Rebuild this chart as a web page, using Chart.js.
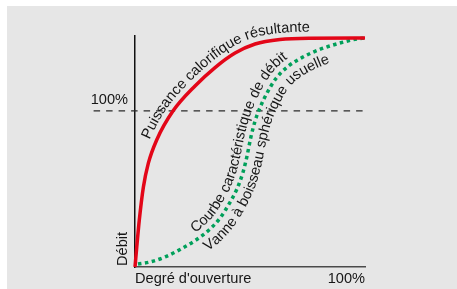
<!DOCTYPE html>
<html>
<head>
<meta charset="utf-8">
<script src="https://cdn.jsdelivr.net/npm/chart.js@4/dist/chart.umd.min.js"></script>
<style>
  html, body { margin: 0; padding: 0; background: #fff; }
  canvas { display: block; }
</style>
</head>
<body>
<canvas id="chart" width="457" height="289"></canvas>
<script>
// axis labels
const xTicks = [0, 100]
const xTickLabels = ["Degré d'ouverture", '100%']
const yTicks = [100]
const yTickLabels = ['100%']
const yTitle = 'Débit'

// x = degré d'ouverture (%), y = débit (%, 100 = ligne pointillée)
const redX = [0, 0.65, 1.87, 3.65, 5.78, 9.43, 16.5, 26.1, 34.8, 43.5, 52.2, 63.0, 76.1, 100]
const redY = [0, 10.9, 30.1, 51.3, 66.4, 81.4, 99.9, 116.0, 127.8, 137.1, 142.9, 145.8, 146.6, 146.7]

const greenX = [1.3, 6.5, 13.0, 19.6, 26.5, 32.6, 37.0, 40.9, 44.3, 47.0, 48.7, 50.4, 52.2, 54.3, 57.4, 61.3, 66.5, 73.0, 80.4, 89.1, 96.5, 100]
const greenY = [1.9, 3.2, 6.4, 11.2, 17.3, 24.3, 31.4, 40.4, 50.0, 60.9, 71.1, 83.3, 93.5, 101.9, 111.5, 120.8, 128.5, 134.5, 139.4, 143.5, 146.1, 146.7]

const refX = [-18, 100]
const refY = [100, 100]

// labels that follow the curves
const curveLabels = [
  { text: 'Puissance calorifique résultante', ds: 0, start: 0.33, off: 6.5 },
  { text: 'Courbe caractéristique de débit', ds: 1, start: 0.19, off: 6.5 },
  { text: 'Vanne à boisseau sphérique usuelle', ds: 1, start: 0.19, off: -16 }
]

const FAMILY = '"Liberation Sans", Arial, sans-serif'
const SIZE = 14.6
const TEXT = '#161616'

const toPts = (xs, ys) => xs.map((x, i) => ({ x, y: ys[i] }))

function sampleCurve(meta) {
  const pts = meta.data, out = []
  for (let i = 0; i < pts.length - 1; i++) {
    const a = pts[i], b = pts[i + 1]
    const c1x = a.cp2x ?? a.x, c1y = a.cp2y ?? a.y, c2x = b.cp1x ?? b.x, c2y = b.cp1y ?? b.y
    for (let k = 0; k < 16; k++) {
      const t = k / 16, u = 1 - t
      out.push({
        x: u*u*u*a.x + 3*u*u*t*c1x + 3*u*t*t*c2x + t*t*t*b.x,
        y: u*u*u*a.y + 3*u*u*t*c1y + 3*u*t*t*c2y + t*t*t*b.y
      })
    }
  }
  const last = pts[pts.length - 1]
  out.push({ x: last.x, y: last.y })
  return out
}

function lengths(path) {
  const L = [0]
  for (let i = 1; i < path.length; i++) L.push(L[i-1] + Math.hypot(path[i].x - path[i-1].x, path[i].y - path[i-1].y))
  return L
}

function pointAt(path, L, s) {
  s = Math.max(0, Math.min(s, L[L.length - 1]))
  let i = 1
  while (i < L.length - 1 && L[i] < s) i++
  const seg = (L[i] - L[i-1]) || 1, t = (s - L[i-1]) / seg
  return { x: path[i-1].x + (path[i].x - path[i-1].x) * t, y: path[i-1].y + (path[i].y - path[i-1].y) * t }
}

function drawOnPath(ctx, lbl, path) {
  const base = lengths(path)
  let nx = 0, ny = -1
  const op = path.map((p, i) => {
    const a = path[Math.max(0, i - 2)], b = path[Math.min(path.length - 1, i + 2)]
    const tx = b.x - a.x, ty = b.y - a.y, len = Math.hypot(tx, ty)
    if (len > 0.01) { nx = ty / len; ny = -tx / len }
    return { x: p.x + nx * lbl.off, y: p.y + ny * lbl.off }
  })
  const L = lengths(op)
  const target = lbl.start * base[base.length - 1]
  let idx = base.findIndex(v => v >= target)
  if (idx < 0) idx = 0
  let s = L[idx]
  for (const ch of lbl.text) {
    const w = ctx.measureText(ch).width
    const p0 = pointAt(op, L, s), p1 = pointAt(op, L, s + w), mid = pointAt(op, L, s + w / 2)
    const ang = Math.atan2(p1.y - p0.y, p1.x - p0.x)
    ctx.save()
    ctx.translate(mid.x, mid.y)
    ctx.rotate(ang)
    ctx.fillText(ch, 0, 0)
    ctx.restore()
    s += w
  }
}

const backdrop = {
  id: 'backdrop',
  beforeDraw(chart) {
    const ctx = chart.ctx
    ctx.save()
    ctx.fillStyle = '#e6e6e6'
    ctx.fillRect(7, 6, chart.width - 7, chart.height - 6)
    ctx.restore()
  }
}

const textLabels = {
  id: 'textLabels',
  afterDatasetsDraw(chart) {
    const ctx = chart.ctx, ys = chart.scales.y
    ctx.save()
    ctx.font = SIZE + 'px ' + FAMILY
    ctx.fillStyle = TEXT
    ctx.textAlign = 'center'
    ctx.textBaseline = 'alphabetic'
    curveLabels.forEach(l => drawOnPath(ctx, l, sampleCurve(chart.getDatasetMeta(l.ds))))
    // y title at the bottom of the axis
    ctx.translate(chart.chartArea.left - 8, ys.getPixelForValue(0) - 1)
    ctx.rotate(-Math.PI / 2)
    ctx.textAlign = 'left'
    ctx.fillText(yTitle, 0, 0)
    ctx.restore()
  }
}

new Chart(document.getElementById('chart'), {
  type: 'line',
  data: {
    datasets: [
      { data: toPts(redX, redY), borderColor: '#e30618', borderWidth: 3.5, cubicInterpolationMode: 'monotone', pointRadius: 0, clip: false },
      { data: toPts(greenX, greenY), borderColor: '#00a05a', borderWidth: 3.5, borderDash: [3.5, 3.5], borderCapStyle: 'butt', cubicInterpolationMode: 'monotone', pointRadius: 0, clip: false },
      { data: toPts(refX, refY), borderColor: '#2a2a2a', borderWidth: 1.2, borderDash: [6.5, 6], tension: 0, pointRadius: 0, clip: false }
    ]
  },
  options: {
    responsive: false,
    animation: false,
    devicePixelRatio: 1,
    layout: { padding: { left: 0, right: 92, top: 36, bottom: 0 } },
    plugins: { legend: { display: false }, tooltip: { enabled: false } },
    scales: {
      x: {
        type: 'linear', min: 0, max: 100,
        afterBuildTicks: s => { s.ticks = xTicks.map(v => ({ value: v })) },
        afterFit: s => { s.height = 22 },
        grid: { display: false, drawTicks: false, tickLength: 0 },
        border: { display: true, color: '#4a4a4a', width: 1.5 },
        ticks: {
          callback: (v, i) => xTickLabels[i],
          align: 'inner', maxRotation: 0, autoSkip: false, padding: 3.5,
          color: TEXT, font: { family: FAMILY, size: SIZE }
        }
      },
      y: {
        type: 'linear', min: 0, max: 148,
        afterBuildTicks: s => { s.ticks = yTicks.map(v => ({ value: v })) },
        afterFit: s => { s.width = 135 },
        grid: { display: false, drawTicks: false, tickLength: 0 },
        border: { display: true, color: '#111', width: 1.5 },
        ticks: {
          callback: (v, i) => yTickLabels[i],
          padding: 7, labelOffset: -11, autoSkip: false,
          color: TEXT, font: { family: FAMILY, size: SIZE }
        }
      }
    }
  },
  plugins: [backdrop, textLabels]
})
</script>
</body>
</html>
